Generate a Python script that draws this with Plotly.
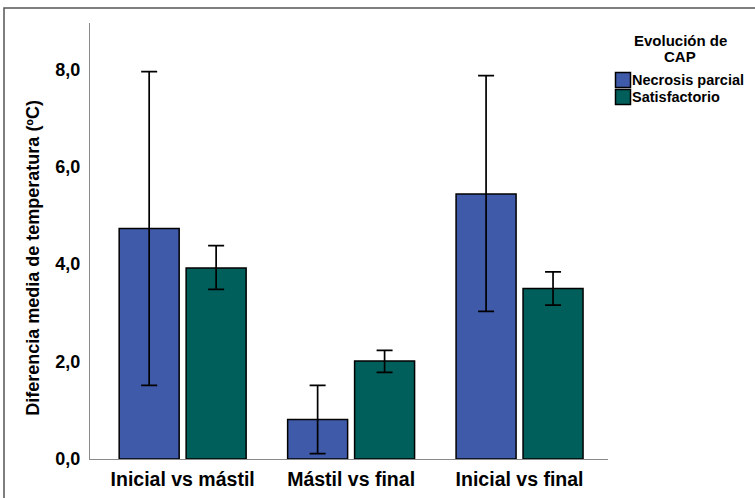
import plotly.graph_objects as go

categories = ["Inicial vs mástil", "Mástil vs final", "Inicial vs final"]
series_names = ["Necrosis parcial", "Satisfactorio"]
legend_title = ["Evolución de", "CAP"]

necrosis_mean = [4.73, 0.81, 5.44]
necrosis_upper = [7.95, 1.51, 7.87]
necrosis_lower = [1.51, 0.11, 3.03]

satisf_mean = [3.92, 2.01, 3.50]
satisf_upper = [4.38, 2.23, 3.84]
satisf_lower = [3.48, 1.78, 3.16]

y_ticks = [0, 2, 4, 6, 8]

FONT = "Liberation Sans, Arial, sans-serif"
colors = ["#3F5AA8", "#005F5A"]

def err(mean, up, lo):
    return dict(type="data", symmetric=False,
                array=[u - m for u, m in zip(up, mean)],
                arrayminus=[m - l for m, l in zip(mean, lo)],
                color="black", thickness=1.7, width=8)

fig = go.Figure()
for name, mean, up, lo, col in [
    (series_names[0], necrosis_mean, necrosis_upper, necrosis_lower, colors[0]),
    (series_names[1], satisf_mean, satisf_upper, satisf_lower, colors[1]),
]:
    fig.add_trace(go.Bar(
        x=categories, y=mean, name=name,
        marker=dict(color=col, line=dict(color="black", width=1.5)),
        error_y=err(mean, up, lo),
        hoverinfo="x+y+name",
    ))

L, R, T, B = 90, 147, 23, 38.5
W, H = 755, 498
pw, ph = W - L - R, H - T - B

def px(x):
    return (x - L) / pw

def py(y):
    return (H - B - y) / ph

shapes = [
    dict(type="path", xref="paper", yref="paper",
         path=f"M {px(4)} {py(505)} L {px(4)} {py(8)} L {px(760)} {py(8)}",
         line=dict(color="#555555", width=1.5)),
]
annotations = [
    dict(text="Diferencia media de temperatura (ºC)", textangle=-90,
         xref="paper", yref="paper", x=px(33.5), y=py(258.5),
         xanchor="center", yanchor="middle", showarrow=False,
         font=dict(family=FONT, size=18, weight="bold", color="black")),
]
# legend title (two lines)
for i, line in enumerate(legend_title):
    annotations.append(dict(
        text=line, xref="paper", yref="paper",
        x=px(680), y=py(40.5 + 16.5 * i), xanchor="center", yanchor="middle",
        showarrow=False, borderpad=0,
        font=dict(family=FONT, size=15, weight="bold", color="black")))
# legend entries (swatch + name)
for i, (name, col) in enumerate(zip(series_names, colors)):
    top = 72 + 17 * i
    shapes.append(dict(type="rect", xref="paper", yref="paper",
                       x0=px(615.5), x1=px(630.5), y0=py(top + 15.5), y1=py(top + 0.5),
                       fillcolor=col, line=dict(color="black", width=1.5)))
    annotations.append(dict(
        text=name, xref="paper", yref="paper",
        x=px(631), y=py(top + 8), xanchor="left", yanchor="middle",
        showarrow=False, borderpad=0,
        font=dict(family=FONT, size=14.5, weight="bold", color="black")))

fig.update_layout(
    width=W, height=H,
    margin=dict(l=L, r=R, t=T, b=B, pad=0, autoexpand=False),
    paper_bgcolor="white", plot_bgcolor="white",
    barmode="group", bargap=0.205, bargroupgap=0.104,
    separators=",.",
    font=dict(family=FONT, color="black"),
    showlegend=False,
    xaxis=dict(
        type="category", range=[-0.55, 2.525],
        showline=True, linecolor="#8a8a8a", linewidth=1,
        showgrid=False, zeroline=False, ticks="",
        tickfont=dict(family=FONT, size=19.5, weight="bold", color="black"),
        ticklabelstandoff=3, fixedrange=True,
    ),
    yaxis=dict(
        range=[0, 8.95], tickvals=y_ticks, tickformat=".1f",
        showline=True, linecolor="#8a8a8a", linewidth=1,
        showgrid=False, zeroline=False, ticks="",
        tickfont=dict(family=FONT, size=18, weight="bold", color="black"),
        ticklabelstandoff=5, fixedrange=True,
    ),
    shapes=shapes,
    annotations=annotations,
)

fig.write_html(
    "out.html",
    config={"displayModeBar": False},
    post_script="document.body.style.margin='0';document.body.style.overflow='hidden';",
)
